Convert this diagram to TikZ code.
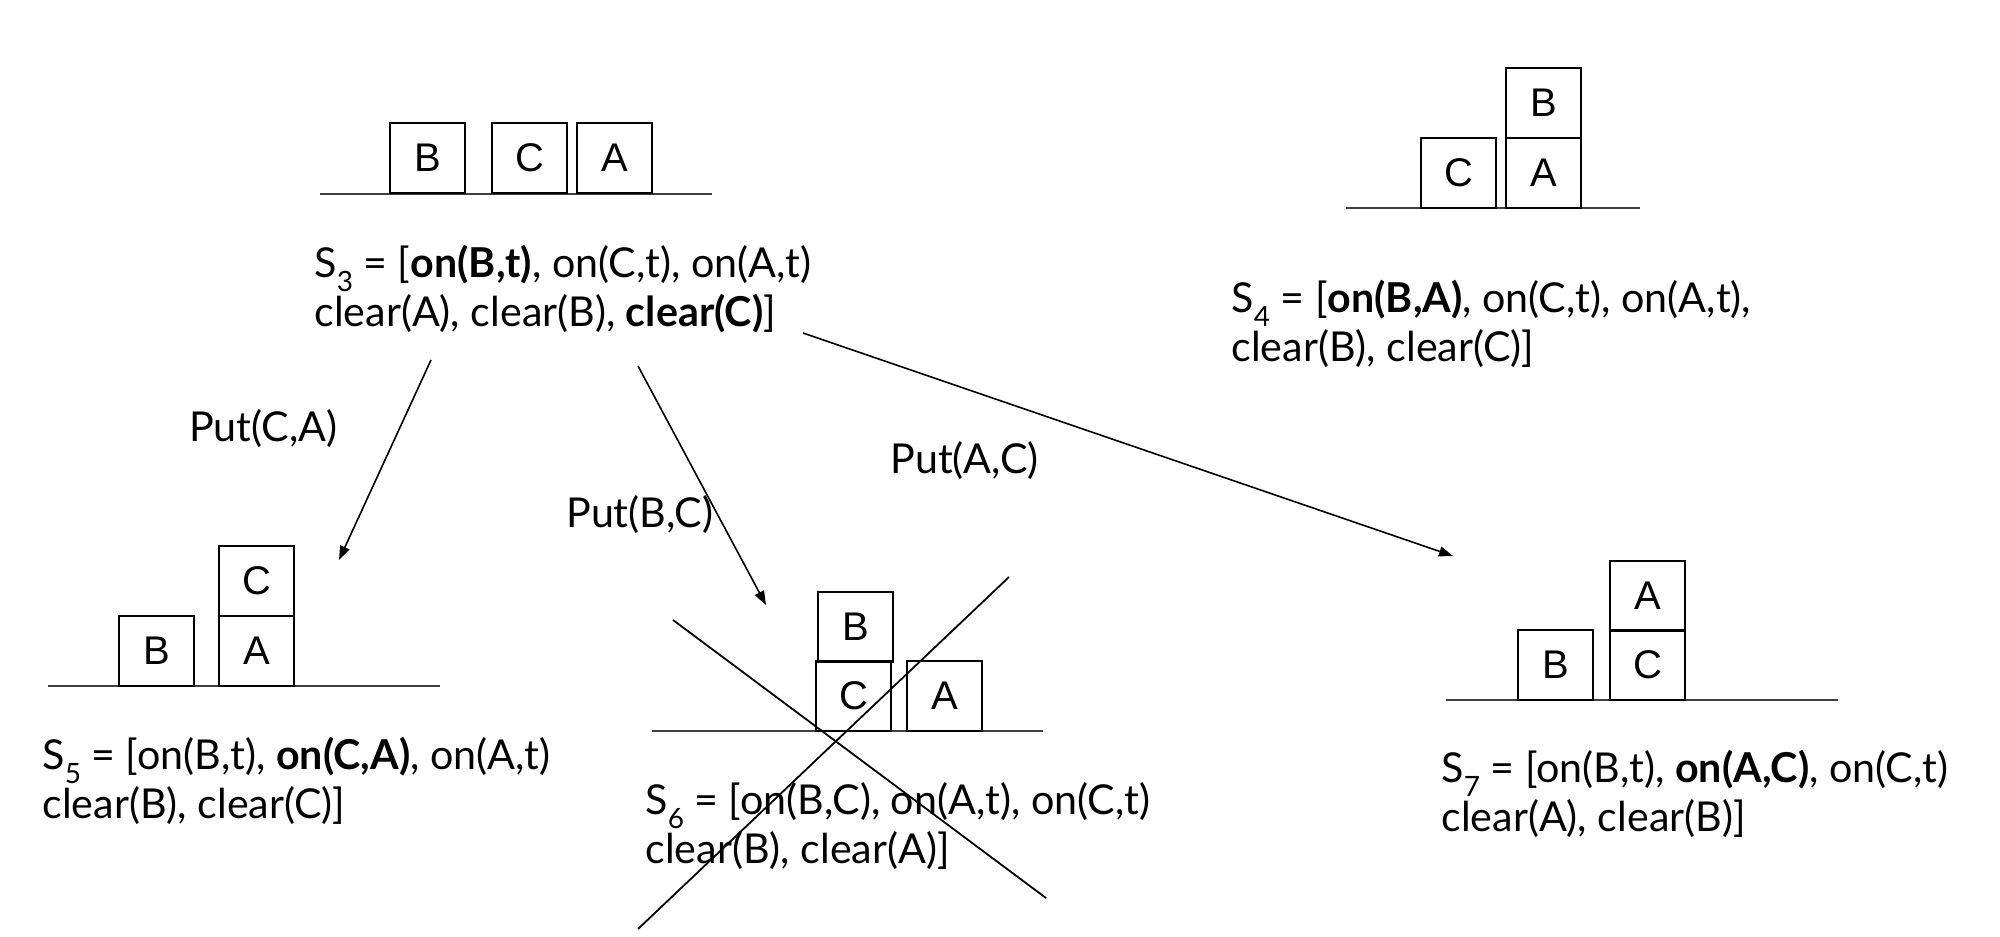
\documentclass[tikz,border=0pt]{standalone}
\usepackage{fontspec}
\setmainfont{Lato}
\newfontfamily\boxfont{Liberation Sans}
\usetikzlibrary{arrows.meta}
\newcommand{\stsub}[1]{\raisebox{-0.36em}{\fontsize{14}{14}\selectfont #1}}
\begin{document}
\begin{tikzpicture}[x=0.5pt,y=-0.5pt,
  blk/.style={draw, line width=1pt, minimum width=37.5pt, minimum height=35pt,
    inner sep=0pt, outer sep=0pt, anchor=south west,
    font=\boxfont\fontsize{20}{24}\selectfont},
  tableline/.style={line width=1.4pt, draw=black!75},
  statetext/.style={anchor=base west, align=left, inner sep=0pt,
    font=\fontsize{20.6}{24.5}\selectfont},
  acttext/.style={anchor=base west, inner sep=0pt, font=\fontsize{20.6}{24.5}\selectfont},
  move/.style={-{Triangle[length=7pt,width=5pt]}, line width=0.8pt},
  crossline/.style={line width=0.9pt}]
\useasboundingbox (0,0) rectangle (2000,936);

% ---- S3 ----
\draw[tableline] (320,194) -- (712,194);
\node[blk] (s3b) at (390,193) {B};
\node[blk] (s3c) at (492,193) {C};
\node[blk] (s3a) at (577,193) {A};
\node[statetext] (s3) at (314,326) {S\stsub{3} = [\textbf{on(B,t)}, on(C,t), on(A,t)\\clear(A), clear(B), \textbf{clear(C)}]};

% ---- S4 ----
\draw[tableline] (1346,208) -- (1640,208);
\node[blk] (s4c) at (1421,208) {C};
\node[blk] (s4a) at (1506,208) {A};
\node[blk] (s4b) at (1506,138) {B};
\node[statetext] (s4) at (1231,361) {S\stsub{4} = [\textbf{on(B,A)}, on(C,t), on(A,t),\\clear(B), clear(C)]};

% ---- S5 ----
\draw[tableline] (48,686) -- (440,686);
\node[blk] (s5b) at (119,686) {B};
\node[blk] (s5a) at (219,686) {A};
\node[blk] (s5c) at (219,616) {C};
\node[statetext] (s5) at (42,818) {S\stsub{5} = [on(B,t), \textbf{on(C,A)}, on(A,t)\\clear(B), clear(C)]};

% ---- S6 ----
\draw[tableline] (652,731) -- (1043,731);
\node[blk] (s6c) at (816,731) {C};
\node[blk] (s6a) at (907,731) {A};
\node[blk] (s6b) at (818,662) {B};
\node[statetext] (s6) at (645,863) {S\stsub{6} = [on(B,C), on(A,t), on(C,t)\\clear(B), clear(A)]};
\coordinate (x1a) at (673,620);
\coordinate (x1b) at (1046,898);
\coordinate (x2a) at (638,929);
\coordinate (x2b) at (1009,577);
\draw[crossline] (x1a) -- (x1b);
\draw[crossline] (x2a) -- (x2b);

% ---- S7 ----
\draw[tableline] (1446,700) -- (1838,700);
\node[blk] (s7b) at (1518,700) {B};
\node[blk] (s7c) at (1610,700) {C};
\node[blk] (s7a) at (1610,631) {A};
\node[statetext] (s7) at (1441,831) {S\stsub{7} = [on(B,t), \textbf{on(A,C)}, on(C,t)\\clear(A), clear(B)]};

% ---- actions ----
\coordinate (m1s) at (431,360);
\coordinate (m1e) at (339,560);
\coordinate (m2s) at (638,366);
\coordinate (m2e) at (766,605);
\coordinate (m3s) at (803,333);
\coordinate (m3e) at (1453,556);
\draw[move] (m1s) -- (m1e);
\draw[move] (m2s) -- (m2e);
\draw[move] (m3s) -- (m3e);
\node[acttext] (l1) at (189,441) {Put(C,A)};
\node[acttext] (l2) at (566,527) {Put(B,C)};
\node[acttext] (l3) at (890,473) {Put(A,C)};
\end{tikzpicture}
\end{document}
